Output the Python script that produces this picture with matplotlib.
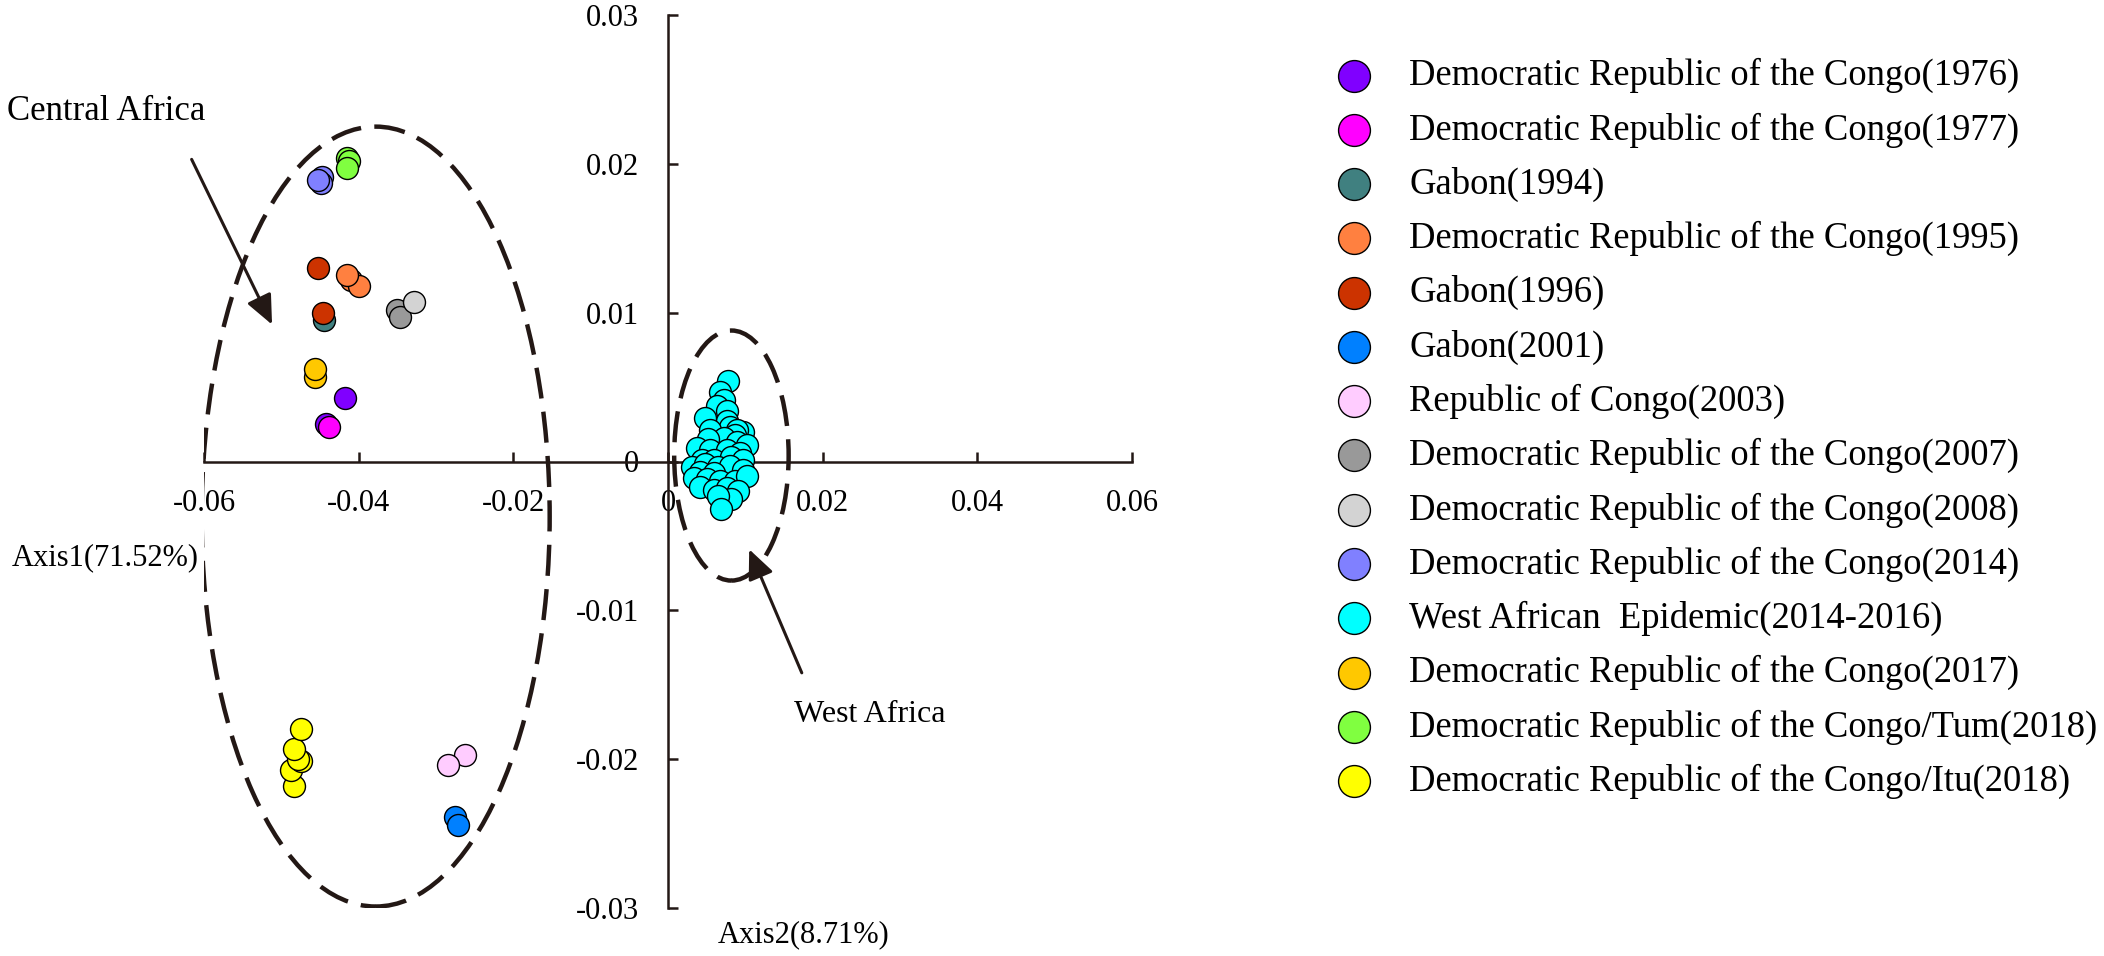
import matplotlib
matplotlib.use("Agg")
import matplotlib.pyplot as plt
from matplotlib.patches import Ellipse

plt.rcParams['font.family'] = ['Liberation Serif', 'DejaVu Serif']

labels = [
    "Democratic Republic of the Congo(1976)",
    "Democratic Republic of the Congo(1977)",
    "Gabon(1994)",
    "Democratic Republic of the Congo(1995)",
    "Gabon(1996)",
    "Gabon(2001)",
    "Republic of Congo(2003)",
    "Democratic Republic of the Congo(2007)",
    "Democratic Republic of the Congo(2008)",
    "Democratic Republic of the Congo(2014)",
    "West African  Epidemic(2014-2016)",
    "Democratic Republic of the Congo(2017)",
    "Democratic Republic of the Congo/Tum(2018)",
    "Democratic Republic of the Congo/Itu(2018)",
]
colors = ["#8000FF", "#FF00FF", "#408080", "#FF8040", "#CC3300", "#0080FF",
          "#FFCCFF", "#999999", "#D3D3D3", "#8080FF", "#00FFFF", "#FFC800",
          "#80FF40", "#FFFF00"]

x_1976 = [-0.0418, -0.0442]
y_1976 = [0.0043, 0.0025]
x_1977 = [-0.0439]
y_1977 = [0.0023]
x_1994 = [-0.0445]
y_1994 = [0.0095]
x_1995 = [-0.0410, -0.0399, -0.0415]
y_1995 = [0.0122, 0.0118, 0.0125]
x_1996 = [-0.0452, -0.0446]
y_1996 = [0.0130, 0.0100]
x_2001 = [-0.0276, -0.0272]
y_2001 = [-0.0239, -0.0244]
x_2003 = [-0.0262, -0.0284]
y_2003 = [-0.0197, -0.0204]
x_2007 = [-0.0351, -0.0347]
y_2007 = [0.0102, 0.0097]
x_2008 = [-0.0328]
y_2008 = [0.0107]
x_2014 = [-0.0447, -0.0449, -0.0452]
y_2014 = [0.0191, 0.0187, 0.0189]
x_west = [0.0078, 0.0067, 0.0072, 0.0063, 0.0076, 0.0048, 0.0076, 0.0080,
          0.0097, 0.0054, 0.0089, 0.0087, 0.0072, 0.0052, 0.0089, 0.0102,
          0.0037, 0.0054, 0.0076, 0.0093, 0.0044, 0.0059, 0.0082, 0.0097,
          0.0031, 0.0048, 0.0065, 0.0080, 0.0097, 0.0041, 0.0059, 0.0033,
          0.0050, 0.0067, 0.0087, 0.0102, 0.0041, 0.0059, 0.0076, 0.0091,
          0.0082, 0.0065, 0.0069]
y_west = [0.0054, 0.0047, 0.0041, 0.0037, 0.0034, 0.0029, 0.0027, 0.0023,
          0.0020, 0.0021, 0.0021, 0.0018, 0.0016, 0.0015, 0.0013, 0.0011,
          0.0009, 0.0008, 0.0008, 0.0006, 0.0001, 0.0001, 0.0003, 0.0001,
          -0.0004, -0.0002, -0.0004, -0.0003, -0.0006, -0.0007, -0.0008, -0.0011,
          -0.0012, -0.0013, -0.0013, -0.0010, -0.0017, -0.0019, -0.0018, -0.0020,
          -0.0025, -0.0023, -0.0032]
x_2017 = [-0.0457, -0.0456]
y_2017 = [0.0057, 0.0062]
x_tum = [-0.0415, -0.0413, -0.0415]
y_tum = [0.0204, 0.0202, 0.0197]
x_itu = [-0.0483, -0.0488, -0.0474, -0.0478, -0.0484, -0.0474]
y_itu = [-0.0218, -0.0207, -0.0201, -0.0200, -0.0193, -0.0180]

xs = [x_1976, x_1977, x_1994, x_1995, x_1996, x_2001, x_2003, x_2007, x_2008,
      x_2014, x_west, x_2017, x_tum, x_itu]
ys = [y_1976, y_1977, y_1994, y_1995, y_1996, y_2001, y_2003, y_2007, y_2008,
      y_2014, y_west, y_2017, y_tum, y_itu]

x_ticks = [-0.06, -0.04, -0.02, 0, 0.02, 0.04, 0.06]
x_ticklabels = ["-0.06", "-0.04", "-0.02", "0", "0.02", "0.04", "0.06"]
y_ticks = [-0.03, -0.02, -0.01, 0, 0.01, 0.02, 0.03]
y_ticklabels = ["-0.03", "-0.02", "-0.01", "0", "0.01", "0.02", "0.03"]

W, H = 2104, 956
fig = plt.figure(figsize=(W / 100, H / 100), dpi=100)
ax = fig.add_axes([204 / W, 48 / H, 928 / W, 893 / H])
ax.set_xlim(-0.06, 0.06)
ax.set_ylim(-0.03, 0.03)

for sp in ['top', 'right']:
    ax.spines[sp].set_visible(False)
for sp in ['left', 'bottom']:
    ax.spines[sp].set_position('zero')
    ax.spines[sp].set_linewidth(1.8)
    ax.spines[sp].set_color('#231815')

ax.set_xticks(x_ticks)
ax.set_xticklabels(x_ticklabels)
ax.set_yticks(y_ticks)
ax.set_yticklabels(y_ticklabels)
ax.tick_params(axis='both', direction='in', length=7, width=1.8,
               colors='#231815', labelsize=22)
ax.tick_params(axis='x', pad=20)
ax.tick_params(axis='y', pad=21)
for t in ax.get_xticklabels() + ax.get_yticklabels():
    t.set_color('black')

# ellipses
ax.add_patch(Ellipse((-0.0378, -0.0037), 0.0450, 0.0524, fill=False,
                     edgecolor='#231815', linewidth=3.2, linestyle=(0, (7, 3)),
                     zorder=2))
ax.add_patch(Ellipse((0.0082, 0.0004), 0.0148, 0.0168, fill=False,
                     edgecolor='#231815', linewidth=3.2, linestyle=(0, (7, 3)),
                     zorder=2))

for xv, yv, c, lab in zip(xs, ys, colors, labels):
    ax.scatter(xv, yv, s=250, c=c, edgecolors='black', linewidths=1.0,
               label=lab, zorder=3, clip_on=False)

arrow_style = dict(arrowstyle='-|>,head_length=0.9,head_width=0.4',
                   color='#231815', lw=2.2, mutation_scale=20,
                   shrinkA=0, shrinkB=0)
ax.annotate('', xy=(-0.0512, 0.0092), xytext=(-0.0616, 0.0203),
            arrowprops=arrow_style, annotation_clip=False)
ax.annotate('', xy=(0.0105, -0.0059), xytext=(0.0173, -0.0142),
            arrowprops=arrow_style, annotation_clip=False)

fig.text(7 / W, 1 - 120 / H, "Central Africa", fontsize=25,
         ha='left', va='baseline', color='black')
ax.text(0.0163, -0.0175, "West Africa", fontsize=23, ha='left',
        va='baseline', color='black')
fig.text(199 / W, 1 - 558 / H, "Axis1(71.52%)", fontsize=22,
         ha='right', va='center')
fig.text(718 / W, 1 - 935 / H, "Axis2(8.71%)", fontsize=22,
         ha='left', va='center')

leg = ax.legend(loc='upper left', bbox_to_anchor=(1336 / W, 1 - 58 / H),
                bbox_transform=fig.transFigure, frameon=False,
                fontsize=26.4, markerscale=1.45, handlelength=1.0,
                handletextpad=1.0, labelspacing=0.52, borderpad=0,
                borderaxespad=0, scatterpoints=1)

fig.savefig("out.png", dpi=100)
